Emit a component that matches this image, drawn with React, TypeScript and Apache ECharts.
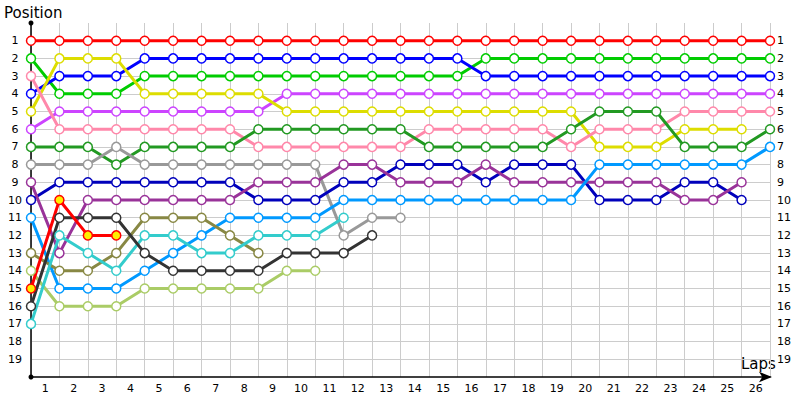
import React, { useEffect, useRef } from "react";
import * as echarts from "echarts";

const lapLabels = ["1","2","3","4","5","6","7","8","9","10","11","12","13","14","15","16","17","18","19","20","21","22","23","24","25","26"];

const _ = null;
const red = [1,1,1,1,1,1,1,1,1,1,1,1,1,1,1,1,1,1,1,1,1,1,1,1,1,1,1];
const green = [2,4,4,4,3,3,3,3,3,3,3,3,3,3,3,3,2,2,2,2,2,2,2,2,2,2,2];
const blue = [4,3,3,3,2,2,2,2,2,2,2,2,2,2,2,2,3,3,3,3,3,3,3,3,3,3,3];
const yellow = [5,2,2,2,4,4,4,4,4,5,5,5,5,5,5,5,5,5,5,5,7,7,7,6,6,6,_];
const purple = [6,5,5,5,5,5,5,5,5,4,4,4,4,4,4,4,4,4,4,4,4,4,4,4,4,4,4];
const pink = [3,6,6,6,6,6,6,6,7,7,7,7,7,7,6,6,6,6,6,7,6,6,6,5,5,5,5];
const darkGreen = [7,7,7,8,7,7,7,7,6,6,6,6,6,6,7,7,7,7,7,6,5,5,5,7,7,7,6];
const gray = [8,8,8,7,8,8,8,8,8,8,8,12,11,11,_,_,_,_,_,_,_,_,_,_,_,_,_];
const navy = [10,9,9,9,9,9,9,9,10,10,10,9,9,8,8,8,9,8,8,8,10,10,10,9,9,10,_];
const darkPurple = [9,13,10,10,10,10,10,10,9,9,9,8,8,9,9,9,8,9,9,9,9,9,9,10,10,9,_];
const lightBlue = [11,15,15,15,14,13,12,11,11,11,11,10,10,10,10,10,10,10,10,10,8,8,8,8,8,8,7];
const redYellow = [15,10,12,12,_,_,_,_,_,_,_,_,_,_,_,_,_,_,_,_,_,_,_,_,_,_,_];
const black = [16,11,11,11,13,14,14,14,14,13,13,13,12,_,_,_,_,_,_,_,_,_,_,_,_,_,_];
const cyan = [17,12,13,14,12,12,13,13,12,12,12,11,_,_,_,_,_,_,_,_,_,_,_,_,_,_,_];
const olive = [13,14,14,13,11,11,11,12,13,_,_,_,_,_,_,_,_,_,_,_,_,_,_,_,_,_,_];
const lightGreen = [14,16,16,16,15,15,15,15,15,14,14,_,_,_,_,_,_,_,_,_,_,_,_,_,_,_,_];

const seriesDefs = [
  { name: "S1", data: red, color: "#ff0000" },
  { name: "S2", data: green, color: "#00cc00" },
  { name: "S3", data: blue, color: "#0000ff" },
  { name: "S4", data: purple, color: "#cc44ff" },
  { name: "S5", data: yellow, color: "#dddd00" },
  { name: "S6", data: pink, color: "#ff88aa" },
  { name: "S7", data: darkGreen, color: "#229922" },
  { name: "S8", data: gray, color: "#999999" },
  { name: "S9", data: navy, color: "#0000bb" },
  { name: "S10", data: darkPurple, color: "#993399" },
  { name: "S11", data: lightBlue, color: "#0099ff" },
  { name: "S12", data: olive, color: "#888844" },
  { name: "S13", data: lightGreen, color: "#aacc66" },
  { name: "S14", data: cyan, color: "#33cccc" },
  { name: "S15", data: black, color: "#333333" },
  { name: "S16", data: redYellow, color: "#ff0000", fill: "#ffee00" },
];

const FONT = "DejaVu Sans";

export default function App() {
  const ref = useRef<HTMLDivElement>(null);
  useEffect(() => {
    if (!ref.current) return;
    const chart = echarts.init(ref.current, undefined, { renderer: "svg" });
    const series = seriesDefs.map((s: any) => ({
      name: s.name,
      type: "line",
      xAxisIndex: 0,
      yAxisIndex: 0,
      data: s.data.map((v: number | null, i: number) => (v == null ? null : [i, v])).filter((d: any) => d != null),
      symbol: "circle",
      symbolSize: 9,
      showAllSymbol: true,
      lineStyle: { color: s.color, width: 3 },
      itemStyle: { color: s.fill || "#ffffff", borderColor: s.color, borderWidth: 1.5 },
      emphasis: { disabled: true },
    }));
    chart.setOption({
      animation: false,
      backgroundColor: "#ffffff",
      textStyle: { fontFamily: FONT },
      grid: { left: 31, right: 30, top: 23, bottom: 23, containLabel: false },
      xAxis: [
        {
          type: "value",
          min: 0,
          max: 26,
          interval: 1,
          position: "bottom",
          axisLine: {
            show: true,
            onZero: false,
            lineStyle: { color: "#000000", width: 1.5 },
            symbol: ["none", "arrow"],
            symbolSize: [8, 13],
            symbolOffset: [0, 2],
          },
          axisTick: { show: false },
          axisLabel: { show: false },
          splitLine: { show: true, lineStyle: { color: "#cccccc", width: 1 } },
        },
        {
          type: "category",
          data: lapLabels,
          boundaryGap: true,
          position: "bottom",
          axisLine: { show: false, onZero: false },
          axisTick: { show: false },
          splitLine: { show: false },
          axisLabel: { show: true, color: "#000000", fontSize: 11, fontFamily: FONT, margin: 6 },
        },
      ],
      yAxis: [
        {
          type: "value",
          inverse: true,
          min: 0,
          max: 20,
          interval: 1,
          position: "left",
          axisLine: {
            show: true,
            onZero: false,
            lineStyle: { color: "#000000", width: 1.5 },
            symbol: ["circle", "circle"],
            symbolSize: [5, 5],
          },
          axisTick: { show: false },
          axisLabel: {
            show: true,
            color: "#000000",
            fontSize: 11,
            fontFamily: FONT,
            align: "center",
            margin: 16,
            formatter: (v: number) => (v >= 1 && v <= 19 ? String(v) : ""),
          },
          splitLine: { show: true, showMinLine: false, showMaxLine: false, lineStyle: { color: "#cccccc", width: 1 } },
        },
        {
          type: "value",
          inverse: true,
          min: 0,
          max: 20,
          interval: 1,
          position: "right",
          axisLine: { show: false, onZero: false },
          axisTick: { show: false },
          splitLine: { show: false },
          axisLabel: {
            show: true,
            color: "#000000",
            fontSize: 11,
            fontFamily: FONT,
            align: "left",
            margin: 7,
            formatter: (v: number) => (v >= 1 && v <= 19 ? String(v) : ""),
          },
        },
      ],
      graphic: [
        { type: "text", left: 4, top: 5, style: { text: "Position", fontSize: 15, fontFamily: FONT, fill: "#000000" } },
        { type: "text", left: 741, top: 356, style: { text: "Laps", fontSize: 15, fontFamily: FONT, fill: "#000000" } },
      ],
      series,
    });
    return () => chart.dispose();
  }, []);
  return <div ref={ref} style={{ width: 800, height: 400, position: "absolute", left: 0, top: 0 }} />;
}
